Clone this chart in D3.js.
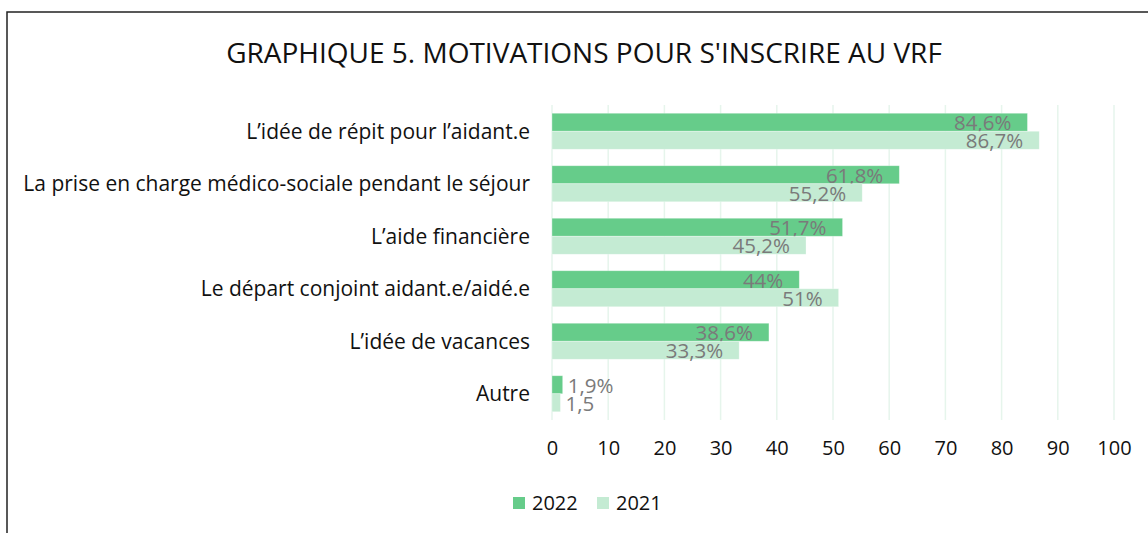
<!DOCTYPE html>
<html>
<head>
<meta charset="utf-8">
<script src="https://cdn.jsdelivr.net/npm/d3@7"></script>
<style>
  body { margin: 0; background: #fff; }
  svg { display: block; font-family: "Open Sans", Lato, sans-serif; }
</style>
</head>
<body>
<div id="chart"></div>
<script>
// data
const categories = [
    "L\u2019idée de répit pour l\u2019aidant.e",
    "La prise en charge médico-sociale pendant le séjour",
    "L\u2019aide financière",
    "Le départ conjoint aidant.e/aidé.e",
    "L\u2019idée de vacances",
    "Autre"
];
const series = ["2022", "2021"];
const values2022 = [84.6, 61.8, 51.7, 44, 38.6, 1.9];
const values2021 = [86.7, 55.2, 45.2, 51, 33.3, 1.5];
const labels2022 = ["84,6%", "61,8%", "51,7%", "44%", "38,6%", "1,9%"];
const labels2021 = ["86,7%", "55,2%", "45,2%", "51%", "33,3%", "1,5"];
const xTicks = [0, 10, 20, 30, 40, 50, 60, 70, 80, 90, 100];

const FRAME_WIDTH = 1148;
const FRAME_HEIGHT = 533;
const COLORS = {"2022": "#66cc8a", "2021": "#c4ebd3"};

const FRAME = d3.select('#chart')
    .append('svg')
        .attr('width', FRAME_WIDTH)
        .attr('height', FRAME_HEIGHT);

// outer border (runs off the right and bottom edge)
FRAME.append('rect')
    .attr('x', 7).attr('y', 12)
    .attr('width', 1160).attr('height', 540)
    .attr('fill', 'none')
    .attr('stroke', '#222')
    .attr('stroke-width', 1.5);

// title
FRAME.append('text')
    .attr('x', 584).attr('y', 63)
    .attr('text-anchor', 'middle')
    .attr('font-size', '28px')
    .attr('fill', '#111')
    .text("GRAPHIQUE 5. MOTIVATIONS POUR S'INSCRIRE AU VRF");

// scales
const X_SCALE = d3.scaleLinear()
    .domain([0, 100])
    .range([552, 1114]);

const Y_SCALE = d3.scaleBand()
    .domain(categories)
    .range([105, 420])
    .paddingInner(0.314)
    .paddingOuter(0.157);

const BAR_H = Y_SCALE.bandwidth() / 2;

// gridlines
FRAME.append('g')
    .selectAll('line')
    .data(xTicks)
    .enter()
    .append('line')
        .attr('x1', d => X_SCALE(d))
        .attr('x2', d => X_SCALE(d))
        .attr('y1', 105)
        .attr('y2', 420)
        .attr('stroke', '#e6f5ec')
        .attr('stroke-width', 1.5);

// x axis (labels only)
const xAxis = FRAME.append('g')
    .attr('transform', 'translate(0,' + 420 + ')')
    .call(d3.axisBottom(X_SCALE).tickValues(xTicks).tickSize(0).tickPadding(21));
xAxis.select('.domain').remove();
xAxis.selectAll('text')
    .attr('font-size', '20px')
    .attr('font-family', '"Open Sans", Lato, sans-serif')
    .attr('fill', '#111');

// category labels
FRAME.append('g')
    .selectAll('text')
    .data(categories)
    .enter()
    .append('text')
        .attr('x', 530)
        .attr('y', d => Y_SCALE(d) + Y_SCALE.bandwidth() / 2)
        .attr('dy', '0.35em')
        .attr('text-anchor', 'end')
        .attr('font-size', '21px')
        .attr('fill', '#111')
        .text(d => d);

// bars
const rows = categories.map((c, i) => ({
    cat: c,
    v2022: values2022[i], l2022: labels2022[i],
    v2021: values2021[i], l2021: labels2021[i]
}));

series.forEach((s, k) => {
    const g = FRAME.append('g');
    g.selectAll('rect')
        .data(rows)
        .enter()
        .append('rect')
            .attr('x', X_SCALE(0))
            .attr('y', d => Y_SCALE(d.cat) + k * BAR_H)
            .attr('width', d => X_SCALE(d['v' + s]) - X_SCALE(0))
            .attr('height', BAR_H)
            .attr('fill', COLORS[s])
            .attr('stroke', '#fff')
            .attr('stroke-opacity', 0.4)
            .attr('stroke-width', 0.75);

    // value labels: inside end, or outside for tiny bars
    g.selectAll('text')
        .data(rows)
        .enter()
        .append('text')
            .attr('x', d => {
                const v = d['v' + s];
                return v < 10 ? X_SCALE(v) + 5 : X_SCALE(v) - 16;
            })
            .attr('y', d => Y_SCALE(d.cat) + k * BAR_H + BAR_H / 2 + 1)
            .attr('dy', '0.35em')
            .attr('text-anchor', d => d['v' + s] < 10 ? 'start' : 'end')
            .attr('font-size', '20.5px')
            .attr('fill', '#7a7a7a')
            .text(d => d['l' + s]);
});

// legend
const legend = FRAME.append('g')
    .selectAll('g')
    .data(series)
    .enter()
    .append('g')
        .attr('transform', (d, i) => 'translate(' + (513 + i * 84) + ',497)');
legend.append('rect')
    .attr('width', 12).attr('height', 12)
    .attr('fill', d => COLORS[d]);
legend.append('text')
    .attr('x', 19).attr('y', 6)
    .attr('dy', '0.35em')
    .attr('font-size', '20px')
    .attr('fill', '#111')
    .text(d => d);
</script>
</body>
</html>
